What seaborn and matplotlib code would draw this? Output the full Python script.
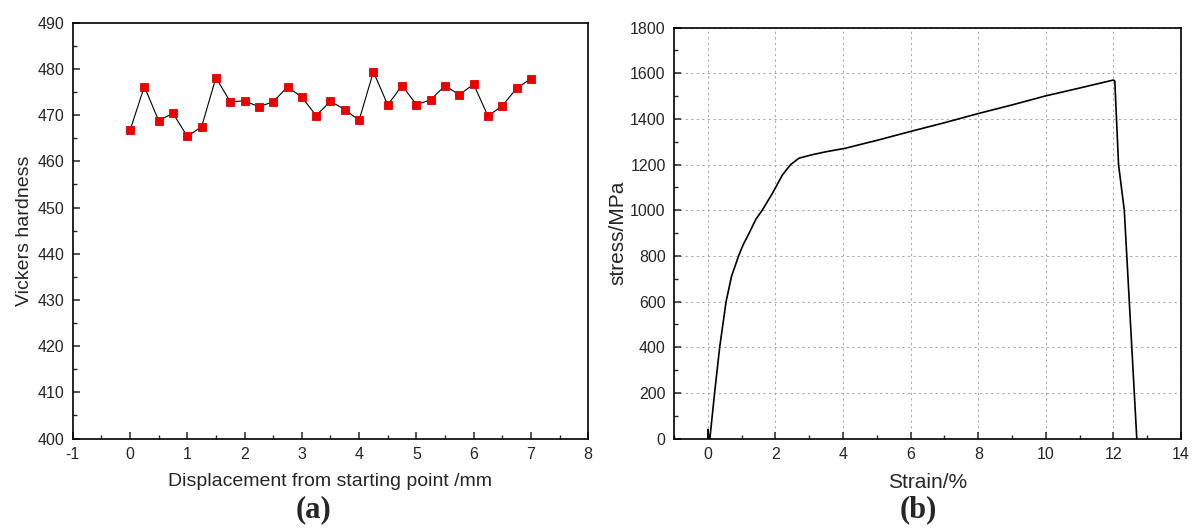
import numpy as np
import pandas as pd
import matplotlib.pyplot as plt
from matplotlib.ticker import MultipleLocator
import seaborn as sns

# (a) hardness profile
displacement = [0, 0.25, 0.5, 0.75, 1.0, 1.25, 1.5, 1.75, 2.0, 2.25, 2.5, 2.75, 3.0, 3.25,
                3.5, 3.75, 4.0, 4.25, 4.5, 4.75, 5.0, 5.25, 5.5, 5.75, 6.0, 6.25, 6.5, 6.75, 7.0]
hardness = [466.7, 476.2, 468.8, 470.4, 465.4, 467.5, 478.1, 472.9, 473.1, 471.8, 472.9, 476.1,
            473.9, 469.9, 473.0, 471.2, 468.9, 479.4, 472.2, 476.4, 472.3, 473.3, 476.4, 474.4,
            476.7, 469.8, 472.0, 475.8, 477.9]

# (b) stress-strain curve
strain = [0.0, 0.0, 0.03, 0.06, 0.2, 0.35, 0.54, 0.7, 0.91, 1.05, 1.22, 1.42, 1.61, 1.91,
          2.21, 2.45, 2.7, 3.09, 3.5, 4.06, 5.06, 6.0, 7.0, 7.97, 9.0, 9.98, 11.0, 12.0, 12.04,
          12.15, 12.32, 12.69]
stress = [0, 40, 0, 0, 200, 400, 600, 710, 800, 850, 899, 960, 1000, 1074,
          1155, 1200, 1228, 1243, 1256, 1271, 1308, 1345, 1383, 1422, 1461, 1500, 1535, 1570, 1565,
          1200, 1000, 0]

df_a = pd.DataFrame({"disp": displacement, "hv": hardness})
df_b = pd.DataFrame({"strain": strain, "stress": stress})

sns.set_style("ticks")
plt.rcParams['font.family'] = ['Liberation Sans', 'DejaVu Sans']
plt.rcParams['axes.unicode_minus'] = False

fig = plt.figure(figsize=(11.93, 5.29), dpi=100)
ax1 = fig.add_axes([0.061, 0.171, 0.432, 0.786])
ax2 = fig.add_axes([0.565, 0.171, 0.425, 0.777])

sns.lineplot(data=df_a, x="disp", y="hv", ax=ax1, color="black", linewidth=0.8,
             marker="s", markersize=5.4, markerfacecolor="#ee0000", markeredgecolor="#dd0000",
             markeredgewidth=0.6, estimator=None, sort=False)
ax1.set_xlim(-1, 8)
ax1.set_ylim(400, 490)
ax1.xaxis.set_major_locator(MultipleLocator(1))
ax1.xaxis.set_minor_locator(MultipleLocator(0.5))
ax1.yaxis.set_major_locator(MultipleLocator(10))
ax1.yaxis.set_minor_locator(MultipleLocator(5))
ax1.set_xlabel("Displacement from starting point /mm", fontsize=14, labelpad=8)
ax1.set_ylabel("Vickers hardness", fontsize=14, labelpad=3)

sns.lineplot(data=df_b, x="strain", y="stress", ax=ax2, color="black", linewidth=1.2,
             estimator=None, sort=False)
ax2.set_xlim(-1, 14)
ax2.set_ylim(0, 1800)
ax2.set_xticks([0, 2, 4, 6, 8, 10, 12, 14])
ax2.xaxis.set_minor_locator(MultipleLocator(1))
ax2.yaxis.set_major_locator(MultipleLocator(200))
ax2.yaxis.set_minor_locator(MultipleLocator(100))
ax2.grid(True, which="major", color="#aaaaaa", linestyle=(0, (2, 3)), linewidth=0.8)
ax2.set_axisbelow(True)
ax2.set_xlabel("Strain/%", fontsize=15, labelpad=8)
ax2.set_ylabel("stress/MPa", fontsize=15, labelpad=2)

for ax in (ax1, ax2):
    for s in ax.spines.values():
        s.set_linewidth(1.2)
        s.set_color("black")
    ax.tick_params(which="major", direction="in", length=5, width=1.1, labelsize=11.5,
                   top=False, right=False, pad=6)
    ax.tick_params(which="minor", direction="in", length=3, width=1.0, top=False, right=False)

fig.text(0.263, 0.036, "(a)", fontsize=22, fontweight="bold", ha="center", va="center",
         family=["Liberation Serif", "DejaVu Serif"])
fig.text(0.770, 0.036, "(b)", fontsize=22, fontweight="bold", ha="center", va="center",
         family=["Liberation Serif", "DejaVu Serif"])

fig.savefig("out.png", dpi=100)
